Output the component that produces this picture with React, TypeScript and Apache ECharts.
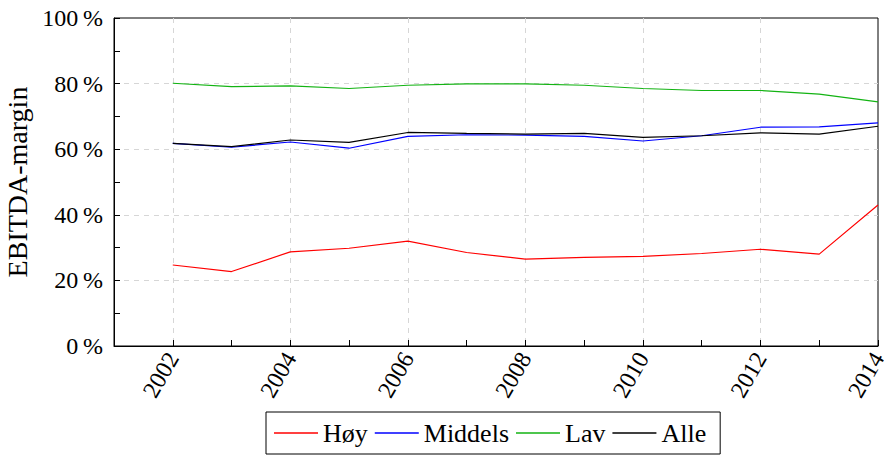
import React, { useEffect, useRef } from "react";
import * as echarts from "echarts";

// EBITDA-margin by group, 2002–2014 (percent)
const years = [2002, 2003, 2004, 2005, 2006, 2007, 2008, 2009, 2010, 2011, 2012, 2013, 2014];
const hoy = [24.7, 22.7, 28.7, 29.8, 32.0, 28.5, 26.5, 27.0, 27.3, 28.2, 29.5, 28.0, 43.0];
const middels = [61.8, 60.6, 62.2, 60.3, 63.9, 64.4, 64.3, 63.9, 62.5, 64.1, 66.7, 66.8, 68.0];
const lav = [80.1, 79.1, 79.3, 78.5, 79.5, 79.9, 79.9, 79.5, 78.5, 77.9, 77.9, 76.8, 74.4];
const alle = [61.8, 60.8, 62.8, 62.1, 65.1, 64.8, 64.6, 64.8, 63.6, 64.1, 65.0, 64.6, 67.0];

const seriesNames = ["Høy", "Middels", "Lav", "Alle"];
const seriesColors = ["#ff0000", "#0000ff", "#13b313", "#000000"];
const seriesValues = [hoy, middels, lav, alle];

const FONT = "Liberation Serif";
const GRID_COLOR = "#d6d6d6";

export default function App() {
  const ref = useRef<HTMLDivElement>(null);

  useEffect(() => {
    if (!ref.current) return;
    const chart = echarts.init(ref.current, undefined, { renderer: "svg" });

    chart.setOption({
      animation: false,
      backgroundColor: "#ffffff",
      textStyle: { fontFamily: FONT, color: "#000" },
      grid: {
        left: 114,
        top: 18,
        width: 764,
        height: 328,
        show: true,
        borderColor: "#000",
        borderWidth: 1,
        backgroundColor: "transparent",
        outerBoundsMode: "none",
      },
      xAxis: {
        type: "value",
        min: 2001,
        max: 2014,
        interval: 1,
        axisLine: { show: true, lineStyle: { color: "#000", width: 1 } },
        axisTick: { show: true, inside: true, length: 6, lineStyle: { color: "#000", width: 1 } },
        axisLabel: {
          rotate: 60,
          margin: 8,
          fontSize: 24,
          fontFamily: FONT,
          color: "#000",
          formatter: (v: number) => (v % 2 === 0 ? String(v) : ""),
        },
        splitLine: {
          show: true,
          showMaxLine: false,
          // one line per year from 2001; only even years are drawn
          lineStyle: { color: ["rgba(0,0,0,0)", GRID_COLOR], type: [5, 5], width: 1 },
        },
      },
      yAxis: {
        type: "value",
        min: 0,
        max: 100,
        interval: 20,
        name: "EBITDA-margin",
        nameLocation: "middle",
        nameRotate: 90,
        nameGap: 80,
        nameTextStyle: { fontSize: 28, fontFamily: FONT, color: "#000" },
        axisLine: { show: true, lineStyle: { color: "#000", width: 1 } },
        axisTick: { show: true, inside: true, length: 6, lineStyle: { color: "#000", width: 1 } },
        minorTick: { show: true, splitNumber: 2, length: 6, lineStyle: { color: "#000", width: 1 } },
        axisLabel: {
          margin: 11,
          fontSize: 24,
          fontFamily: FONT,
          color: "#000",
          formatter: (v: number) => `${v}\u2009%`,
        },
        splitLine: {
          show: true,
          showMinLine: false,
          showMaxLine: false,
          lineStyle: { color: GRID_COLOR, type: [5, 5], width: 1 },
        },
      },
      legend: {
        left: 266,
        top: 412,
        orient: "horizontal",
        icon: "rect",
        itemWidth: 44,
        itemHeight: 1.3,
        itemGap: 7,
        padding: [8, 14, 8, 8],
        borderColor: "#000",
        borderWidth: 1,
        textStyle: { fontSize: 26, fontFamily: FONT, color: "#000" },
        data: seriesNames,
      },
      series: seriesNames.map((name, i) => ({
        name,
        type: "line",
        symbol: "none",
        color: seriesColors[i],
        lineStyle: { color: seriesColors[i], width: 1.2 },
        data: years.map((y, j) => [y, seriesValues[i][j]]),
      })),
    });

    return () => chart.dispose();
  }, []);

  return (
    <div
      ref={ref}
      style={{ position: "fixed", left: 0, top: 0, width: 884, height: 457 }}
    />
  );
}
